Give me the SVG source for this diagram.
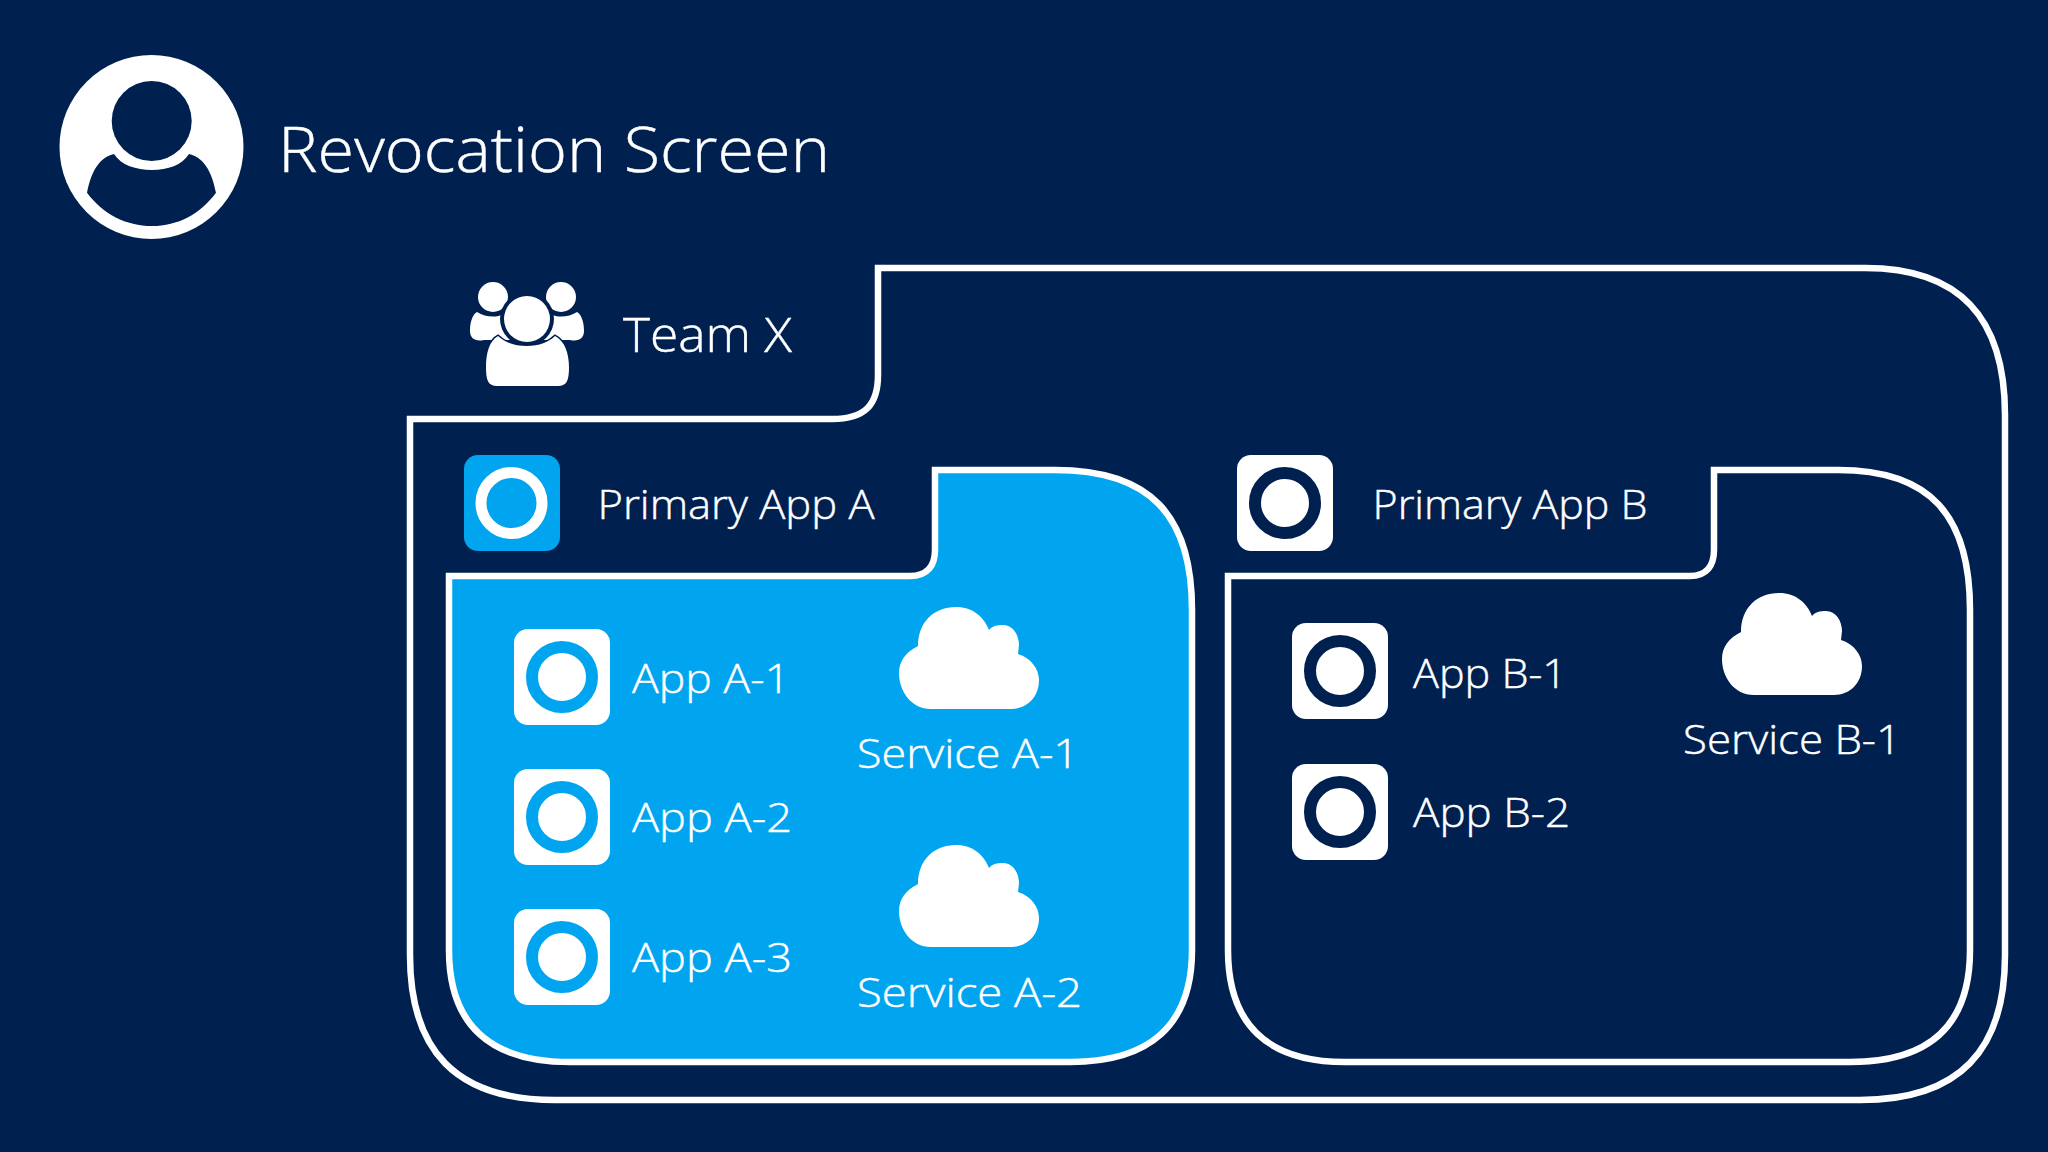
<svg xmlns="http://www.w3.org/2000/svg" width="2048" height="1152" viewBox="0 0 2048 1152">
<style>
text{font-family:"Open Sans","Noto Sans","Liberation Sans",sans-serif;font-weight:300;fill:#fff;stroke:#fff;stroke-width:.45px}
.t{font-size:63px}.m{font-size:48px}.l{font-size:41px}
.frame{fill:none;stroke:#fff;stroke-width:6.500}
.tile{fill:#fff}.blue{fill:#00a4ef}.navy{fill:#002050}
</style>
<defs>
<path id="cloud" fill="#fff" d="M32 102C12 102 0 84 0 66C0 54 7 45 19 39C19 15 35 0 57 0C74 0 85 10 90 23C93 19 98 18 104 18C114 18 120 28 120 38L119 47C132 51 140 62 140 73C140 90 128 102 112 102Z"/>
</defs>
<rect width="2048" height="1152" fill="#002050"/>
<g id="connectors"></g>
<g id="revocation-screen">
<circle cx="151.500" cy="147" r="92" fill="#fff"/>
<circle class="navy" cx="151.700" cy="121" r="40"/>
<path class="navy" d="M87 192.700C90 178 96 158 114 154C121 165 136 170 152 170C168 170 182 165 189 154C207 158 213 178 216 192.700C200 214 178 226 152 226C126 226 103 214 87 192.700Z"/>
<text class="t" x="278" y="172" textLength="552" lengthAdjust="spacingAndGlyphs">Revocation Screen</text>
</g>
<g id="team-x">
<path class="frame" d="M878 268H1865C1960 268 2005 318 2005 415V955C2005 1050 1960 1100 1860 1100H555C455 1100 410 1050 410 955V419H832C865 419 878 405 878 375Z"/>
<g fill="#fff">
<circle cx="493" cy="297" r="15"/>
<circle cx="561" cy="297" r="15"/>
<path d="M477 312C482 315 487 316.500 493 316.500C497 316.500 500 316 503 314L512 340H484C475 342 470 338 470 331C470 323 472 315 477 312Z"/>
<path d="M577 312C572 315 567 316.500 561 316.500C557 316.500 554 316 551 314L542 340H570C579 342 584 338 584 331C584 323 582 315 577 312Z"/>
<circle cx="527" cy="319" r="27" fill="#002050"/>
<circle cx="527" cy="319" r="23"/>
<path d="M498 336C489 341 486 354 486 367C486 380 488 386 497 386H558C567 386 569 380 569 367C569 354 565 341 555 336C549 342 539 346 527 346C515 346 504 342 498 336Z" stroke="#002050" stroke-width="3" paint-order="stroke"/>
</g>
<text class="m" x="623" y="352" textLength="169" lengthAdjust="spacingAndGlyphs">Team X</text>
</g>
<g id="primary-app-a">
<path d="M935 470H1055C1150 470 1192 515 1192 610V950C1192 1025 1150 1062 1070 1062H570C490 1062 449 1025 449 950V576H910C928 576 935 565 935 550Z" fill="#00a4ef" stroke="#fff" stroke-width="6.500"/>
<rect class="blue" x="464" y="455" width="96" height="96" rx="14"/>
<circle cx="511.500" cy="503" r="30.500" fill="none" stroke="#fff" stroke-width="11"/>
<text class="l" x="597.500" y="519" textLength="277" lengthAdjust="spacingAndGlyphs">Primary App A</text>
</g>
<g id="app-a-1">
<rect class="tile" x="514" y="629" width="96" height="96" rx="14"/>
<circle cx="562" cy="677" r="30" fill="#fff" stroke="#00a4ef" stroke-width="12"/>
<text class="l" x="632" y="693" textLength="158" lengthAdjust="spacingAndGlyphs">App A-1</text>
</g>
<g id="app-a-2">
<rect class="tile" x="514" y="769" width="96" height="96" rx="14"/>
<circle cx="562" cy="817" r="30" fill="#fff" stroke="#00a4ef" stroke-width="12"/>
<text class="l" x="632" y="832" textLength="160" lengthAdjust="spacingAndGlyphs">App A-2</text>
</g>
<g id="app-a-3">
<rect class="tile" x="514" y="909" width="96" height="96" rx="14"/>
<circle cx="562" cy="957" r="30" fill="#fff" stroke="#00a4ef" stroke-width="12"/>
<text class="l" x="632" y="972" textLength="160" lengthAdjust="spacingAndGlyphs">App A-3</text>
</g>
<g id="service-a-1">
<use href="#cloud" x="899" y="607"/>
<text class="l" x="857" y="768" textLength="222" lengthAdjust="spacingAndGlyphs">Service A-1</text>
</g>
<g id="service-a-2">
<use href="#cloud" x="899" y="845"/>
<text class="l" x="857" y="1007" textLength="225" lengthAdjust="spacingAndGlyphs">Service A-2</text>
</g>
<g id="primary-app-b">
<path class="frame" d="M1714 470H1838C1930 470 1970 515 1970 610V950C1970 1025 1930 1062 1850 1062H1345C1268 1062 1228 1025 1228 950V576H1690C1707 576 1714 565 1714 550Z"/>
<rect class="tile" x="1237" y="455" width="96" height="96" rx="14"/>
<circle cx="1285" cy="503" r="30" fill="#fff" stroke="#002050" stroke-width="12"/>
<text class="l" x="1372.500" y="519" textLength="275" lengthAdjust="spacingAndGlyphs">Primary App B</text>
</g>
<g id="app-b-1">
<rect class="tile" x="1292" y="623" width="96" height="96" rx="14"/>
<circle cx="1340" cy="671" r="30" fill="#fff" stroke="#002050" stroke-width="12"/>
<text class="l" x="1413" y="688" textLength="154" lengthAdjust="spacingAndGlyphs">App B-1</text>
</g>
<g id="app-b-2">
<rect class="tile" x="1292" y="764" width="96" height="96" rx="14"/>
<circle cx="1340" cy="812" r="30" fill="#fff" stroke="#002050" stroke-width="12"/>
<text class="l" x="1413" y="827" textLength="157" lengthAdjust="spacingAndGlyphs">App B-2</text>
</g>
<g id="service-b-1">
<use href="#cloud" x="1722" y="593"/>
<text class="l" x="1683" y="754" textLength="218" lengthAdjust="spacingAndGlyphs">Service B-1</text>
</g>
</svg>
